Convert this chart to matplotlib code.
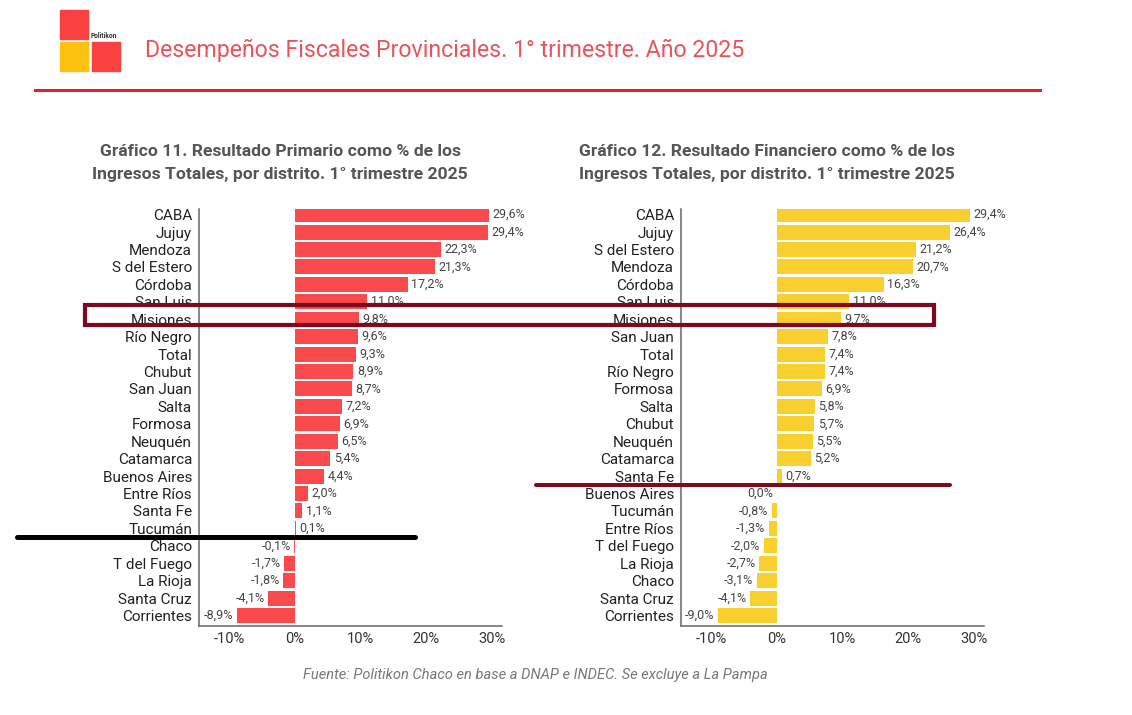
import matplotlib.pyplot as plt
from matplotlib.patches import Rectangle
from matplotlib.lines import Line2D

plt.rcParams['font.family'] = ['Roboto', 'DejaVu Sans']

W, H = 1132, 715

# Gráfico 11 - Resultado Primario
prov_prim = ['CABA', 'Jujuy', 'Mendoza', 'S del Estero', 'Córdoba', 'San Luis',
             'Misiones', 'Río Negro', 'Total', 'Chubut', 'San Juan', 'Salta',
             'Formosa', 'Neuquén', 'Catamarca', 'Buenos Aires', 'Entre Ríos',
             'Santa Fe', 'Tucumán', 'Chaco', 'T del Fuego', 'La Rioja',
             'Santa Cruz', 'Corrientes']
val_prim = [29.6, 29.4, 22.3, 21.3, 17.2, 11.0, 9.8, 9.6, 9.3, 8.9, 8.7, 7.2,
            6.9, 6.5, 5.4, 4.4, 2.0, 1.1, 0.1, -0.1, -1.7, -1.8, -4.1, -8.9]

# Gráfico 12 - Resultado Financiero
prov_fin = ['CABA', 'Jujuy', 'S del Estero', 'Mendoza', 'Córdoba', 'San Luis',
            'Misiones', 'San Juan', 'Total', 'Río Negro', 'Formosa', 'Salta',
            'Chubut', 'Neuquén', 'Catamarca', 'Santa Fe', 'Buenos Aires',
            'Tucumán', 'Entre Ríos', 'T del Fuego', 'La Rioja', 'Chaco',
            'Santa Cruz', 'Corrientes']
val_fin = [29.4, 26.4, 21.2, 20.7, 16.3, 11.0, 9.7, 7.8, 7.4, 7.4, 6.9, 5.8,
           5.7, 5.5, 5.2, 0.7, 0.0, -0.8, -1.3, -2.0, -2.7, -3.1, -4.1, -9.0]

x_ticks = [-10, 0, 10, 20, 30]
x_tick_labels = ['-10%', '0%', '10%', '20%', '30%']

RED = '#fb4a4d'
YELLOW = '#f9cf30'
MAROON = '#7d0a1e'


def px(x, y):
    # pixel coords (top-left origin) -> figure fraction
    return x / W, 1 - y / H


def fmt(v):
    return f'{v:.1f}%'.replace('.', ',')


def draw_chart(ax, names, vals, color):
    ypos = list(range(len(names)))
    ax.barh(ypos, vals, height=0.86, color=color)
    for y, v in zip(ypos, vals):
        if v > 0:
            ax.annotate(fmt(v), (v, y), xytext=(2.5, 0), textcoords='offset points',
                        ha='left', va='center', fontsize=9, color='#444444')
        else:
            ax.annotate(fmt(v), (v, y), xytext=(-2.5, 0), textcoords='offset points',
                        ha='right', va='center', fontsize=9, color='#444444')
    ax.set_yticks(ypos)
    ax.set_yticklabels(names, fontsize=11, color='#222222')
    ax.set_xticks(x_ticks)
    ax.set_xticklabels(x_tick_labels, fontsize=10.5, color='#333333')
    ax.set_xlim(-14.66, 31.6)
    ax.set_ylim(len(names) - 1 + 0.6, -0.32)
    ax.tick_params(length=0)
    ax.tick_params(axis='y', pad=5)
    ax.tick_params(axis='x', pad=4)
    for s in ['top', 'right']:
        ax.spines[s].set_visible(False)
    for s in ['left', 'bottom']:
        ax.spines[s].set_color('#666666')
        ax.spines[s].set_linewidth(1.1)


fig = plt.figure(figsize=(W / 100, H / 100), dpi=100)

ax1 = fig.add_axes([199 / W, 1 - 626 / H, 303 / W, 417 / H])
draw_chart(ax1, prov_prim, val_prim, RED)
ax2 = fig.add_axes([681 / W, 1 - 626 / H, 303 / W, 417 / H])
draw_chart(ax2, prov_fin, val_fin, YELLOW)

# chart titles
fig.text(*px(280, 163), 'Gráfico 11. Resultado Primario como % de los\n'
         'Ingresos Totales, por distrito. 1° trimestre 2025',
         ha='center', va='center', fontsize=12.6, fontweight='bold',
         color='#555555', linespacing=1.6)
fig.text(*px(767, 163), 'Gráfico 12. Resultado Financiero como % de los\n'
         'Ingresos Totales, por distrito. 1° trimestre 2025',
         ha='center', va='center', fontsize=12.6, fontweight='bold',
         color='#555555', linespacing=1.6)

# header: logo, title, red rule
fig.patches.append(Rectangle(px(60, 39), 28 / W, 29 / H, transform=fig.transFigure,
                             color='#f9423f'))
fig.patches.append(Rectangle(px(60, 71), 28 / W, 29 / H, transform=fig.transFigure,
                             color='#fcc20f'))
fig.patches.append(Rectangle(px(92, 71), 28 / W, 29 / H, transform=fig.transFigure,
                             color='#f9423f'))
fig.text(*px(91, 36), 'Politikon', fontsize=4.8, fontweight='bold',
         color='#333333', va='center', ha='left')
fig.text(*px(145, 50), 'Desempeños Fiscales Provinciales. 1° trimestre. Año 2025',
         fontsize=16.7, color='#e8545c', va='center', ha='left')
fig.lines.append(Line2D([35 / W, 1040 / W], [1 - 90 / H] * 2,
                        transform=fig.transFigure, color='#e3212b', linewidth=2.2))

# highlight marks
fig.patches.append(Rectangle(px(85, 325), 849 / W, 20 / H, transform=fig.transFigure,
                             fill=False, edgecolor=MAROON, linewidth=3))
fig.lines.append(Line2D([17 / W, 415 / W], [1 - 536.5 / H] * 2,
                        transform=fig.transFigure, color='black', linewidth=3.6,
                        solid_capstyle='round'))
fig.lines.append(Line2D([536 / W, 950 / W], [1 - 485 / H] * 2,
                        transform=fig.transFigure, color=MAROON, linewidth=2.9,
                        solid_capstyle='round'))

# source
fig.text(*px(535, 675), 'Fuente: Politikon Chaco en base a DNAP e INDEC. '
         'Se excluye a La Pampa', ha='center', va='center', fontsize=10.5,
         style='italic', color='#777777')

fig.savefig('out.png', dpi=100)
